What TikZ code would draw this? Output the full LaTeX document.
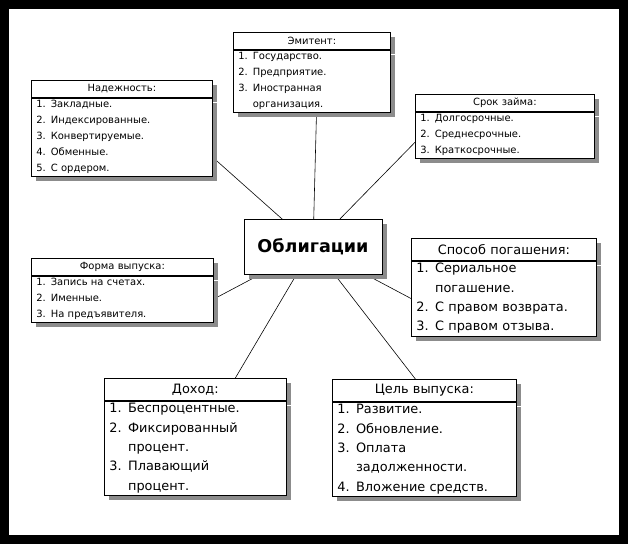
\documentclass[tikz,border=0pt]{standalone}
\usepackage{fontspec}
\setmainfont{DejaVu Sans}
\usetikzlibrary{positioning, shadows, backgrounds}

\tikzset{
  card/.style={draw=black, fill=white, line width=0.6pt, align=left,
    inner xsep=0.15cm, inner ysep=2pt,
    drop shadow={shadow xshift=0.15cm, shadow yshift=-0.15cm, fill=black!45, opacity=1}},
  headsm/.style={card, align=center, minimum height=0.51cm, font=\fontsize{8.5}{10}\selectfont},
  headlg/.style={card, align=center, minimum height=0.66cm, font=\fontsize{11}{13}\selectfont},
  listsm/.style={card, font=\fontsize{8.5}{13.6}\selectfont},
  listlg/.style={card, font=\fontsize{11}{16.5}\selectfont},
  spoke/.style={draw=black, line width=0.5pt}
}
\newcommand{\padbot}[1]{\par\vspace*{#1}}

\begin{document}
\begin{tikzpicture}[x=0.03cm, y=-0.03cm]
  \useasboundingbox (0,0) rectangle (628,544);
  \begin{scope}[on background layer]
    \fill[black] (0,0) rectangle (628,544);
    \fill[white] (9,9) rectangle (619,535);
  \end{scope}

  % center
  \node[card, minimum width=4.14cm, minimum height=1.65cm, align=center,
    font=\fontsize{15}{18}\selectfont\bfseries] (ob) at (313,246.5) {Облигации};

  % Эмитент
  \node[headsm, minimum width=4.71cm, text width=4.41cm, anchor=north west] (emh) at (233,32) {Эмитент:};
  \node[listsm, minimum width=4.71cm, text width=4.41cm, anchor=north] (em) at (emh.south)
    {1. Государство.\\2. Предприятие.\\3. Иностранная\\\phantom{3. }организация.\padbot{11pt}};

  % Надежность
  \node[headsm, minimum width=5.43cm, text width=5.13cm, anchor=north west] (nadh) at (31,80) {Надежность:};
  \node[listsm, minimum width=5.43cm, text width=5.13cm, anchor=north] (nad) at (nadh.south)
    {1. Закладные.\\2. Индексированные.\\3. Конвертируемые.\\4. Обменные.\\5. С ордером.\padbot{2pt}};

  % Срок займа
  \node[headsm, minimum width=5.37cm, text width=5.07cm, anchor=north west] (srh) at (415,94) {Срок займа:};
  \node[listsm, minimum width=5.37cm, text width=5.07cm, anchor=north] (sr) at (srh.south)
    {1. Долгосрочные.\\2. Среднесрочные.\\3. Краткосрочные.\padbot{3pt}};

  % Способ погашения
  \node[headlg, minimum width=5.55cm, text width=5.25cm, anchor=north west] (sph) at (411,238) {Способ погашения:};
  \node[listlg, minimum width=5.55cm, text width=5.25cm, anchor=north] (sp) at (sph.south)
    {1. Сериальное\\\phantom{1. }погашение.\\2. С правом возврата.\\3. С правом отзыва.\padbot{4pt}};

  % Форма выпуска
  \node[headsm, minimum width=5.46cm, text width=5.16cm, anchor=north west] (foh) at (31,258) {Форма выпуска:};
  \node[listsm, minimum width=5.46cm, text width=5.16cm, anchor=north] (fo) at (foh.south)
    {1. Запись на счетах.\\2. Именные.\\3. На предъявителя.\padbot{15pt}};

  % Доход
  \node[headlg, minimum width=5.46cm, text width=5.16cm, anchor=north west] (doh) at (104,378) {Доход:};
  \node[listlg, minimum width=5.46cm, text width=5.16cm, anchor=north] (do) at (doh.south)
    {1. Беспроцентные.\\2. Фиксированный\\\phantom{2. }процент.\\3. Плавающий\\\phantom{3. }процент.\padbot{1pt}};

  % Цель выпуска
  \node[headlg, minimum width=5.52cm, text width=5.22cm, anchor=north west] (ceh) at (332,379) {Цель выпуска:};
  \node[listlg, minimum width=5.52cm, text width=5.22cm, anchor=north] (ce) at (ceh.south)
    {1. Развитие.\\2. Обновление.\\3. Оплата\\\phantom{3. }задолженности.\\4. Вложение средств.\padbot{14pt}};

  % spokes
  \begin{scope}[on background layer]
    \draw[spoke] (ob.center) -- ([yshift=0.57cm]nad.south east);
    \draw[spoke] (ob.center) -- ([xshift=0.14cm]em.south);
    \draw[spoke] (ob.center) -- ([yshift=0.48cm]sr.south west);
    \draw[spoke] (ob.center) -- (sp.west);
    \draw[spoke] (ob.center) -- (fo.east);
    \draw[spoke] (ob.center) -- ([xshift=1.2cm]doh.north);
    \draw[spoke] (ob.center) -- ([xshift=-0.27cm]ceh.north);
  \end{scope}
\end{tikzpicture}
\end{document}
